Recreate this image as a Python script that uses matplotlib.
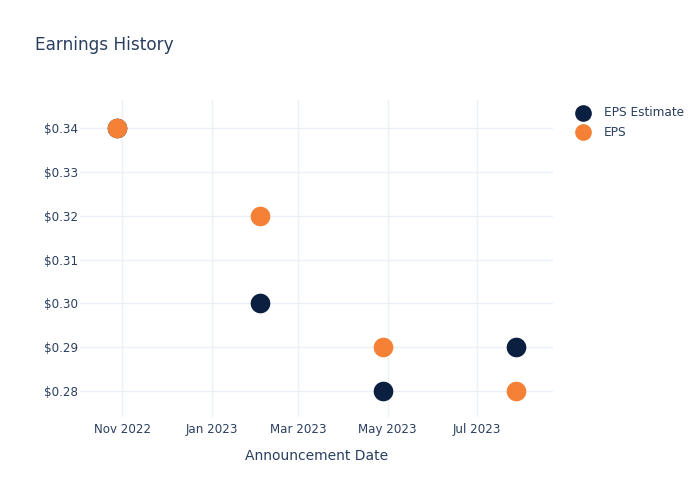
import matplotlib
matplotlib.use("Agg")
import matplotlib.pyplot as plt
import datetime as dt

dates = ["2022-10-28", "2023-02-03", "2023-04-28", "2023-07-28"]
eps_estimate = [0.34, 0.30, 0.28, 0.29]
eps_actual = [0.34, 0.32, 0.29, 0.28]
tick_dates = ["2022-11-01", "2023-01-01", "2023-03-01", "2023-05-01", "2023-07-01"]
tick_labels = ["Nov 2022", "Jan 2023", "Mar 2023", "May 2023", "Jul 2023"]
y_ticks = [0.28, 0.29, 0.30, 0.31, 0.32, 0.33, 0.34]

text_color = "#2a3f5f"
grid_color = "#EBF0F8"
navy = "#0B1F41"
orange = "#F58137"

plt.rcParams['font.family'] = ['DejaVu Sans']

fig = plt.figure(figsize=(7, 5), dpi=100)
ax = fig.add_axes([80/700, 83/500, 473/700, 317/500])

x = [dt.datetime.strptime(d, "%Y-%m-%d") for d in dates]
ax.scatter(x, eps_estimate, s=200, color=navy, label="EPS Estimate", zorder=3, linewidths=0)
ax.scatter(x, eps_actual, s=200, color=orange, label="EPS", zorder=4, linewidths=0)

ax.set_xlim(dt.datetime(2022, 10, 3), dt.datetime(2023, 8, 22))
ax.set_ylim(0.2741, 0.3464)

ax.set_xticks([dt.datetime.strptime(d, "%Y-%m-%d") for d in tick_dates])
ax.set_xticklabels(tick_labels)
ax.set_yticks(y_ticks)
ax.set_yticklabels([f"${v:.2f}" for v in y_ticks])

for s in ax.spines.values():
    s.set_visible(False)
ax.tick_params(axis='both', length=0, labelsize=8.6, colors=text_color)
ax.tick_params(axis='x', pad=4)
ax.tick_params(axis='y', pad=1.5)
ax.grid(True, color=grid_color, linewidth=1)
ax.set_axisbelow(True)

ax.set_xlabel("Announcement Date", fontsize=10, color=text_color, labelpad=10)

fig.text(35/700, 1 - 44.5/500, "Earnings History", fontsize=12.2, color=text_color,
         va="center", ha="left")

leg = ax.legend(loc="upper left", bbox_to_anchor=(560/700, 1 - 95/500),
                bbox_transform=fig.transFigure, frameon=False, fontsize=8.7,
                labelcolor=text_color, handletextpad=0.75, labelspacing=0.55,
                markerscale=0.85)

fig.savefig("out.png", dpi=100)
